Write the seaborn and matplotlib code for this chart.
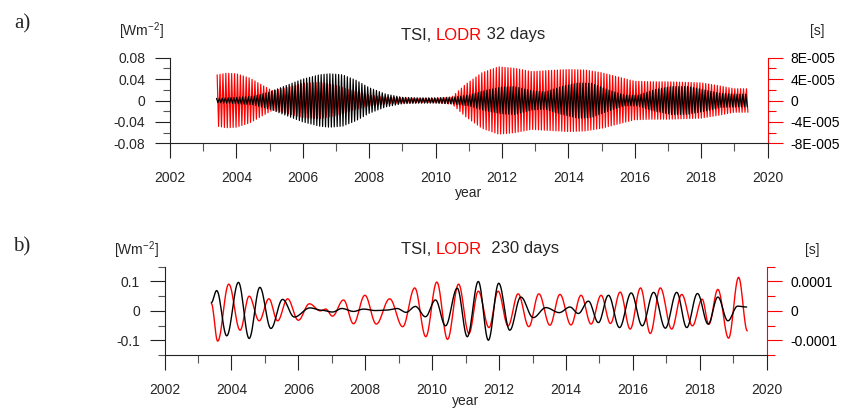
import numpy as np
import matplotlib
matplotlib.use("Agg")
import matplotlib.pyplot as plt
import matplotlib.ticker as mticker
import seaborn as sns

# ---- panel a: 32-day band, amplitude envelope ----
tsi_a_years = [2003.40, 2004.0, 2004.5, 2005.0, 2005.5, 2006.0, 2006.5, 2006.8, 2007.2,
               2007.6, 2008.0, 2008.5, 2009.0, 2009.5, 2010.0, 2010.5, 2011.0, 2011.5,
               2012.0, 2012.4, 2012.9, 2013.3, 2013.8, 2014.3, 2014.7, 2015.2, 2015.7,
               2016.1, 2016.6, 2017.1, 2017.6, 2018.1, 2018.6, 2019.0, 2019.42]
tsi_a_amp = [0.004, 0.006, 0.008, 0.016, 0.028, 0.040, 0.048, 0.050, 0.048,
             0.038, 0.024, 0.012, 0.006, 0.005, 0.005, 0.006, 0.010, 0.019,
             0.025, 0.026, 0.018, 0.016, 0.026, 0.033, 0.032, 0.020, 0.010,
             0.010, 0.020, 0.026, 0.026, 0.020, 0.013, 0.012, 0.012]

lodr_a_years = [2003.42, 2003.7, 2004.0, 2004.4, 2004.8, 2005.1, 2005.5, 2006.0, 2006.5,
                2007.0, 2007.5, 2008.0, 2008.5, 2009.0, 2009.5, 2010.0, 2010.5, 2010.9,
                2011.4, 2011.9, 2012.4, 2012.9, 2013.4, 2014.0, 2014.5, 2015.0, 2015.5,
                2016.0, 2016.5, 2017.0, 2017.5, 2018.0, 2018.5, 2019.0, 2019.42]
lodr_a_amp = np.array([4.8, 5.1, 5.0, 4.2, 2.8, 1.8, 2.4, 3.2, 3.4,
                       2.8, 1.8, 1.0, 0.6, 0.5, 0.4, 0.4, 0.7, 3.0,
                       5.2, 6.3, 6.0, 5.4, 5.6, 5.8, 5.7, 5.2, 4.4,
                       3.6, 3.5, 3.5, 3.4, 3.3, 2.8, 2.2, 2.2]) * 1e-5   # seconds

# ---- panel b: 230-day band, turning points ----
tsi_b_years = [2003.40, 2003.56, 2003.86, 2004.21, 2004.53, 2004.85, 2005.18, 2005.53,
               2005.88, 2006.35, 2006.70, 2007.02, 2007.30, 2007.65, 2007.95, 2008.30,
               2008.60, 2008.95, 2009.22, 2009.50, 2009.80, 2010.10, 2010.40, 2010.75,
               2011.05, 2011.38, 2011.68, 2011.99, 2012.32, 2012.65, 2013.02, 2013.40,
               2013.80, 2014.12, 2014.37, 2014.67, 2014.97, 2015.27, 2015.60, 2015.95,
               2016.28, 2016.62, 2016.97, 2017.31, 2017.61, 2017.93, 2018.25, 2018.54,
               2018.84, 2019.13, 2019.40]
tsi_b_vals = [0.028, 0.069, -0.085, 0.097, -0.094, 0.080, -0.060, 0.039,
              -0.021, 0.010, 0.002, -0.004, 0.008, -0.002, 0.006, 0.001,
              0.002, 0.008, -0.005, 0.015, -0.020, 0.037, -0.051, 0.077,
              -0.088, 0.100, -0.100, 0.094, -0.066, 0.047, -0.023, 0.011,
              -0.006, 0.013, -0.009, 0.033, -0.040, 0.053, -0.057, 0.061,
              -0.051, 0.063, -0.059, 0.063, -0.057, 0.059, -0.045, 0.047,
              -0.034, 0.016, 0.013]

lodr_b_years = [2003.40, 2003.59, 2003.92, 2004.26, 2004.53, 2004.83, 2005.12, 2005.38,
                2005.68, 2006.00, 2006.33, 2006.66, 2006.82, 2007.02, 2007.35, 2007.65,
                2007.99, 2008.33, 2008.73, 2009.12, 2009.48, 2009.81, 2010.14, 2010.46,
                2010.79, 2011.10, 2011.38, 2011.70, 2011.97, 2012.27, 2012.57, 2012.89,
                2013.19, 2013.52, 2013.82, 2014.15, 2014.45, 2014.75, 2015.05, 2015.33,
                2015.62, 2015.92, 2016.23, 2016.52, 2016.82, 2017.16, 2017.46, 2017.78,
                2018.07, 2018.27, 2018.54, 2018.86, 2019.16, 2019.42]
lodr_b_vals = np.array([2.5, -10.3, 9.1, -6.6, 5.0, -3.4, 4.1, -3.4,
                        4.1, -3.2, 2.4, 0.0, 0.6, -1.8, 3.7, -4.4,
                        5.3, -4.5, 4.1, -5.4, 7.8, -8.8, 9.8, -9.7,
                        9.1, -7.7, 6.7, -5.7, 6.7, -5.1, 5.8, -5.4,
                        5.8, -4.9, 5.6, -4.8, 5.3, -4.5, 5.3, -4.3,
                        6.4, -6.2, 7.8, -7.7, 7.8, -6.2, 5.6, -5.1,
                        4.0, -4.6, 7.3, -9.3, 11.4, -6.8]) * 1e-5   # seconds

year_ticks = list(range(2002, 2021, 2))


def band_signal(years, amp, period_days=32):
    # alternate +/- envelope every half period
    half = period_days / 2 / 365.25
    t = np.arange(years[0], years[-1] + 1e-9, half)
    sign = np.where(np.arange(len(t)) % 2 == 0, 1.0, -1.0)
    return t, sign * np.interp(t, years, amp)


def smooth_turns(years, vals, n=14):
    # half-cosine between consecutive turning points
    xs, ys = [], []
    for i in range(len(years) - 1):
        s = np.linspace(0, 1, n, endpoint=False)
        w = (1 - np.cos(np.pi * s)) / 2
        xs.append(years[i] + (years[i + 1] - years[i]) * s)
        ys.append(vals[i] + (vals[i + 1] - vals[i]) * w)
    xs.append([years[-1]])
    ys.append([vals[-1]])
    return np.concatenate(xs), np.concatenate(ys)


def e_fmt(v, pos):
    if abs(v) < 1e-12:
        return "0"
    m, e = f"{v:.0E}".split("E")
    return f"{m}E{e[0]}{int(e[1:]):03d}"


def g_fmt(v, pos):
    v = round(v, 8)
    return "0" if v == 0 else f"{v:g}"


sns.set_style("ticks")
plt.rcParams["font.family"] = ["Liberation Sans", "DejaVu Sans"]
plt.rcParams["mathtext.fontset"] = "custom"
plt.rcParams["mathtext.rm"] = "Liberation Sans"

W, H = 842, 408
fig = plt.figure(figsize=(W / 100, H / 100), dpi=100)


def px_axes(x0, y0, x1, y1):
    return fig.add_axes([x0 / W, 1 - y1 / H, (x1 - x0) / W, (y1 - y0) / H])


def style_pair(ax, ax2, ylim, ymaj, ymin, rlim, rmaj, rmin, lfmt, rfmt, xpad=1):
    ax.set_xlim(2002, 2020)
    ax.set_ylim(*ylim)
    ax2.set_ylim(*rlim)
    ax.xaxis.set_major_locator(mticker.FixedLocator(year_ticks))
    ax.xaxis.set_minor_locator(mticker.MultipleLocator(1))
    ax.yaxis.set_major_locator(mticker.MultipleLocator(ymaj))
    ax.yaxis.set_minor_locator(mticker.MultipleLocator(ymin))
    ax.yaxis.set_major_formatter(mticker.FuncFormatter(lfmt))
    ax2.yaxis.set_major_locator(mticker.MultipleLocator(rmaj))
    ax2.yaxis.set_minor_locator(mticker.MultipleLocator(rmin))
    ax2.yaxis.set_major_formatter(mticker.FuncFormatter(rfmt))
    for s in ["top", "right"]:
        ax.spines[s].set_visible(False)
    for s in ["left", "bottom"]:
        ax.spines[s].set_color("#222222")
        ax.spines[s].set_linewidth(0.8)
    for s in ["top", "left", "bottom"]:
        ax2.spines[s].set_visible(False)
    ax2.spines["right"].set_color("red")
    ax2.spines["right"].set_linewidth(0.8)
    ax.tick_params(which="major", direction="out", length=10.8, width=0.8,
                   color="#222222", labelsize=10, pad=7)
    ax.tick_params(which="minor", direction="out", length=5.4, width=0.8, color="#555555")
    ax.tick_params(axis="x", pad=9)
    ax2.tick_params(axis="y", which="major", direction="out", length=10.8, width=0.8,
                    color="red", labelcolor="black", labelsize=10, pad=6)
    ax2.tick_params(axis="y", which="minor", direction="out", length=5.4, width=0.8,
                    color="red")
    ax.set_xlabel("year", fontsize=10, labelpad=xpad)
    ax.set_ylabel("")
    ax2.set_ylabel("")
    ax.set_zorder(ax2.get_zorder() + 1)
    ax.patch.set_visible(False)


def title(ax, x, y, rest):
    # "TSI, " black + "LODR" red + rest black, laid end to end
    t1 = fig.text(x / W, 1 - y / H, "TSI, ", fontsize=12, va="center", ha="left")
    t2 = ax.annotate("LODR", xy=(1, 0), xycoords=t1, va="bottom", ha="left",
                     fontsize=12, color="red", annotation_clip=False)
    ax.annotate(rest, xy=(1, 0), xycoords=t2, va="bottom", ha="left", fontsize=12,
                annotation_clip=False)


# ---- panel a ----
ax_a = px_axes(170, 57.7, 767.5, 143.3)
ax_a2 = ax_a.twinx()
t, v = band_signal(lodr_a_years, lodr_a_amp)
sns.lineplot(x=t, y=v, ax=ax_a2, color="red", lw=0.85, estimator=None, sort=False)
t, v = band_signal(tsi_a_years, tsi_a_amp)
sns.lineplot(x=t, y=v, ax=ax_a, color="black", lw=0.85, estimator=None, sort=False)
style_pair(ax_a, ax_a2, (-0.08, 0.08), 0.04, 0.02, (-8e-5, 8e-5), 4e-5, 2e-5,
           lambda v, p: "0" if abs(v) < 1e-9 else f"{v:.2f}", e_fmt)

# ---- panel b ----
ax_b = px_axes(164.5, 266.7, 766.7, 355)
ax_b2 = ax_b.twinx()
t, v = smooth_turns(lodr_b_years, lodr_b_vals)
sns.lineplot(x=t, y=v, ax=ax_b2, color="red", lw=1.0, estimator=None, sort=False)
t, v = smooth_turns(tsi_b_years, tsi_b_vals)
sns.lineplot(x=t, y=v, ax=ax_b, color="black", lw=1.0, estimator=None, sort=False)
style_pair(ax_b, ax_b2, (-0.15, 0.15), 0.1, 0.05, (-1.5e-4, 1.5e-4), 1e-4, 5e-5,
           g_fmt, g_fmt, xpad=-2)

# ---- labels ----
title(ax_a, 401, 35, " 32 days")
title(ax_b, 401, 249, "  230 days")
for y, lab in [(24, "a)"), (247, "b)")]:
    fig.text(22 / W, 1 - y / H, lab, fontsize=15, family=["Liberation Serif"],
             ha="center", va="center")
for x, y in [(141, 31), (136, 250)]:
    fig.text(x / W, 1 - y / H, r"[Wm$^{\mathregular{-2}}$]", fontsize=10,
             ha="center", va="center")
for x, y in [(817, 31), (812, 250)]:
    fig.text(x / W, 1 - y / H, "[s]", fontsize=10, ha="center", va="center")

fig.savefig("out.png", dpi=100)
